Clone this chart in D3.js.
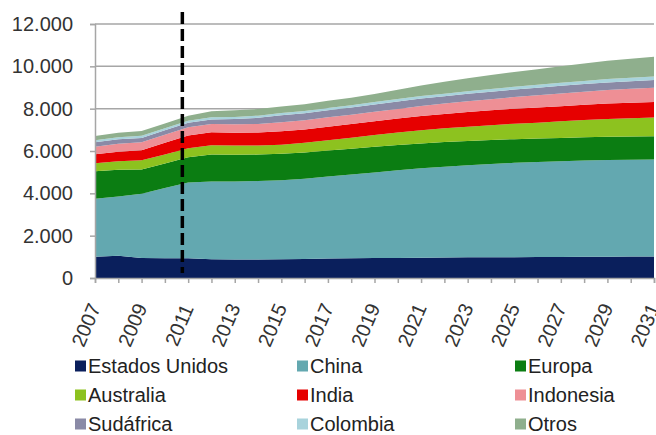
<!DOCTYPE html>
<html>
<head>
<meta charset="utf-8">
<script src="https://cdn.jsdelivr.net/npm/d3@7"></script>
<style>
  body { margin: 0; background: #fff; }
  svg { display: block; }
  text { font-family: "Liberation Sans", Arial, sans-serif; }
</style>
</head>
<body>
<svg id="chart" width="656" height="435"></svg>
<script>
// Demanda por región (miles de toneladas), 2007–2031
const years = [2007,2008,2009,2010,2011,2012,2013,2014,2015,2016,2017,2018,2019,
               2020,2021,2022,2023,2024,2025,2026,2027,2028,2029,2030,2031];

const estadosUnidos = [1000,1050,950,930,930,880,870,870,880,900,920,930,940,
                       950,960,970,975,980,985,990,995,1000,1005,1010,1010];
const china = [2740,2800,3030,3320,3580,3680,3690,3710,3740,3790,3870,3960,4050,
               4140,4220,4290,4355,4410,4455,4490,4525,4550,4565,4580,4590];
const europa = [1300,1260,1150,1160,1190,1270,1260,1250,1250,1240,1230,1220,1210,
                1190,1180,1160,1140,1130,1120,1110,1100,1100,1100,1100,1100];
const australia = [380,400,430,420,435,440,440,430,430,460,490,520,560,
                   590,620,650,680,700,730,750,780,810,840,860,880];
const india = [430,460,480,560,600,610,600,610,630,630,640,640,650,
               660,670,680,690,700,710,710,720,720,730,730,730];
const indonesia = [350,370,370,380,390,390,400,410,430,430,440,440,450,
                   460,480,490,510,530,550,580,600,620,640,660,680];
const sudafrica = [210,210,210,205,205,220,250,290,330,335,335,340,340,
                   345,345,350,350,350,355,355,360,360,360,360,360];
const colombia = [100,100,100,100,100,100,100,100,100,100,110,110,110,
                  120,120,120,120,130,130,140,140,150,160,160,170];
const otros = [200,210,220,230,240,290,310,310,310,320,340,360,380,
               440,500,560,620,660,700,740,780,820,860,900,930];

const seriesNames = ["Estados Unidos","China","Europa","Australia","India",
                     "Indonesia","Sudáfrica","Colombia","Otros"];
const seriesValues = [estadosUnidos, china, europa, australia, india,
                      indonesia, sudafrica, colombia, otros];
const seriesColors = ["#0a1f5c","#63a8b0","#0b7d12","#8dc21f","#e60000",
                      "#ee8f95","#8a8aa6","#a8d3dc","#8faf8d"];

const yTicks = [0,2000,4000,6000,8000,10000,12000];
const xTickLabels = [2007,2009,2011,2013,2015,2017,2019,2021,2023,2025,2027,2029,2031];
const proyeccionDesde = 2010.75;   // historic / projected divider

// Spanish number format: 12.000
const esLocale = d3.formatLocale({decimal: ",", thousands: ".", grouping: [3], currency: ["", " €"]});
const fmt = esLocale.format(",d");

const svg = d3.select("#chart");
const margin = {left: 95, right: 2, top: 24, bottom: 157};
const W = 656, H = 435;

const x = d3.scaleLinear().domain([2007, 2031]).range([margin.left, W - margin.right]);
const y = d3.scaleLinear().domain([0, 12000]).range([H - margin.bottom, margin.top]);

// Gridlines
svg.append("g")
  .selectAll("line")
  .data(yTicks.filter(t => t > 0))
  .join("line")
  .attr("x1", x.range()[0]).attr("x2", x.range()[1])
  .attr("y1", d => y(d)).attr("y2", d => y(d))
  .attr("stroke", "#a6a6a6").attr("stroke-width", 1.5);

// Stacked areas
const rows = years.map((yr, i) => {
  const r = {year: yr};
  seriesNames.forEach((n, k) => { r[n] = seriesValues[k][i]; });
  return r;
});
const stacked = d3.stack().keys(seriesNames)(rows);
const area = d3.area()
  .x(d => x(d.data.year))
  .y0(d => y(d[0]))
  .y1(d => y(d[1]));

svg.append("g")
  .selectAll("path")
  .data(stacked)
  .join("path")
  .attr("d", area)
  .attr("fill", (d, i) => seriesColors[i]);

// Y axis
const yAxis = svg.append("g")
  .attr("transform", `translate(${x.range()[0]},0)`)
  .call(d3.axisLeft(y).tickValues(yTicks).tickSize(5).tickPadding(17).tickFormat(fmt));
yAxis.select(".domain").attr("stroke", "#a6a6a6").attr("stroke-width", 1.5);
yAxis.selectAll(".tick line").attr("stroke", "#a6a6a6").attr("stroke-width", 1.5);
yAxis.selectAll(".tick text")
  .attr("font-size", 20)
  .attr("fill", "#333")
  .attr("font-family", "Liberation Sans, Arial, sans-serif");

// X axis
const xAxis = svg.append("g")
  .attr("transform", `translate(0,${y(0)})`)
  .call(d3.axisBottom(x).tickValues(years).tickSize(5).tickFormat(""));
xAxis.select(".domain").attr("stroke", "#a6a6a6").attr("stroke-width", 1.5);
xAxis.selectAll(".tick line").attr("stroke", "#a6a6a6").attr("stroke-width", 1.5);

// Rotated year labels
svg.append("g")
  .selectAll("text")
  .data(xTickLabels)
  .join("text")
  .attr("transform", d => `translate(${x(d) - 9},325) rotate(-67)`)
  .attr("text-anchor", "middle")
  .attr("dominant-baseline", "central")
  .attr("font-size", 20)
  .attr("fill", "#333")
  .text(d => d);

// Projection divider
svg.append("line")
  .attr("x1", x(proyeccionDesde)).attr("x2", x(proyeccionDesde))
  .attr("y1", 12).attr("y2", 273)
  .attr("stroke", "#000").attr("stroke-width", 3.5)
  .attr("stroke-dasharray", "12,5");

// Legend: 3 columns x 3 rows
const legendCols = [75, 297, 515];
const legendRows = [366, 395, 424];
const legend = svg.append("g")
  .selectAll("g")
  .data(seriesNames)
  .join("g")
  .attr("transform", (d, i) => `translate(${legendCols[i % 3]},${legendRows[Math.floor(i / 3)]})`);
legend.append("rect")
  .attr("x", 0).attr("y", -5.5).attr("width", 11).attr("height", 11)
  .attr("fill", (d, i) => seriesColors[i]);
legend.append("text")
  .attr("x", 13).attr("y", 0)
  .attr("dominant-baseline", "central")
  .attr("font-size", 20)
  .attr("fill", "#222")
  .text(d => d);
</script>
</body>
</html>
